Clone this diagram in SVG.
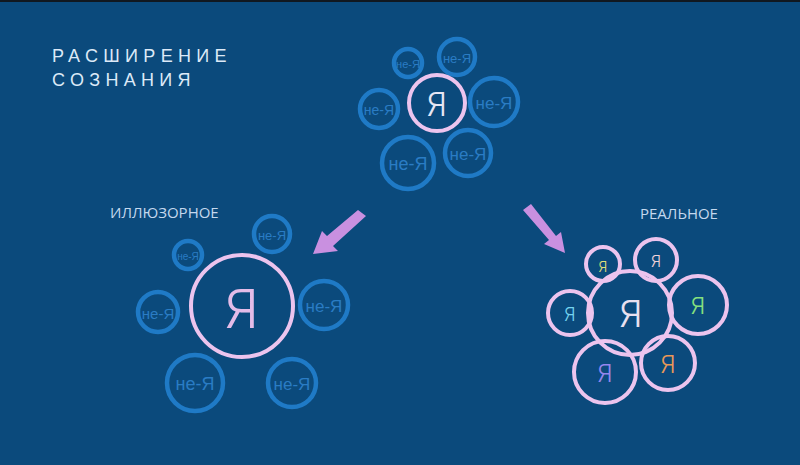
<svg xmlns="http://www.w3.org/2000/svg" width="800" height="465" viewBox="0 0 800 465">
<defs>
<style>
.bg{fill:#0b4a7c}
.nc{fill:none;stroke:#1f7ac6;stroke-width:4.5}
.nt{fill:#2a7cc4;font-family:"Liberation Sans",Arial,sans-serif;text-anchor:middle;dominant-baseline:central}
.ya{fill:none;stroke:#ecc4ee;stroke-width:4}
.yt{font-family:Inter,"Liberation Sans",Arial,sans-serif;font-weight:300;text-anchor:middle;dominant-baseline:central}
.title{fill:#dce9f7;font-family:"Liberation Sans",Arial,sans-serif;font-size:18px;letter-spacing:5.3px}
.sub{fill:#c4d8ee;font-family:"Open Sans","Liberation Sans",sans-serif;font-size:15px}
.arr{fill:#c990e0}
</style>
</defs>
<rect class="bg" x="0" y="0" width="800" height="465"/>
<rect x="0" y="0" width="800" height="2" fill="#111820"/>
<g id="title">
<text class="title" x="52" y="62">РАСШИРЕНИЕ</text>
<text class="title" x="52" y="86">СОЗНАНИЯ</text>
</g>
<g id="label-illusory"><text class="sub" x="110" y="218">ИЛЛЮЗОРНОЕ</text></g>
<g id="label-real"><text class="sub" x="640" y="219">РЕАЛЬНОЕ</text></g>

<g id="top-cluster">
<g id="top-n1"><circle class="nc" cx="408" cy="63" r="14"/><text class="nt" x="408" y="64" font-size="11">не-Я</text></g>
<g id="top-n2"><circle class="nc" cx="457" cy="57" r="18"/><text class="nt" x="457" y="58" font-size="13">не-Я</text></g>
<g id="top-n3"><circle class="nc" cx="379" cy="109" r="19"/><text class="nt" x="379" y="110" font-size="14">не-Я</text></g>
<g id="top-n4"><circle class="nc" cx="494" cy="102" r="24"/><text class="nt" x="494" y="103" font-size="17">не-Я</text></g>
<g id="top-n5"><circle class="nc" cx="408" cy="163" r="26"/><text class="nt" x="408" y="164" font-size="18">не-Я</text></g>
<g id="top-n6"><circle class="nc" cx="468" cy="153" r="23"/><text class="nt" x="468" y="154" font-size="17">не-Я</text></g>
<g id="top-self"><circle class="ya" cx="437" cy="103" r="28"/><text class="yt" x="437" y="104" font-size="32" fill="#e6e6f4">Я</text></g>
</g>

<g id="left-cluster">
<g id="left-n1"><circle class="nc" cx="188" cy="255" r="14"/><text class="nt" x="188" y="256" font-size="10">не-Я</text></g>
<g id="left-n2"><circle class="nc" cx="272" cy="234" r="18"/><text class="nt" x="272" y="235" font-size="13">не-Я</text></g>
<g id="left-n3"><circle class="nc" cx="158" cy="312" r="20"/><text class="nt" x="158" y="313" font-size="15">не-Я</text></g>
<g id="left-n4"><circle class="nc" cx="324" cy="305" r="24"/><text class="nt" x="324" y="306" font-size="17">не-Я</text></g>
<g id="left-n5"><circle class="nc" cx="195" cy="383" r="28"/><text class="nt" x="195" y="384" font-size="18">не-Я</text></g>
<g id="left-n6"><circle class="nc" cx="292" cy="383" r="24"/><text class="nt" x="292" y="384" font-size="17">не-Я</text></g>
<g id="left-self"><circle class="ya" cx="242" cy="306" r="51"/><text class="yt" x="242" y="308" font-size="54" fill="#e4bce8">Я</text></g>
</g>

<g id="right-cluster">
<g id="right-n1"><circle class="ya" cx="603" cy="264" r="17"/><text class="yt" x="603" y="266" font-size="14" fill="#e2e07a">Я</text></g>
<g id="right-n2"><circle class="ya" cx="656" cy="260" r="21"/><text class="yt" x="656" y="261" font-size="16" fill="#f0d2d8">Я</text></g>
<g id="right-n3"><circle class="ya" cx="570" cy="313" r="22"/><text class="yt" x="570" y="314" font-size="18" fill="#74d4f0">Я</text></g>
<g id="right-n4"><circle class="ya" cx="698" cy="305" r="29"/><text class="yt" x="698" y="306" font-size="23" fill="#86e07e">Я</text></g>
<g id="right-n5"><circle class="ya" cx="605" cy="372" r="31"/><text class="yt" x="605" y="373" font-size="24" fill="#9486ee">Я</text></g>
<g id="right-n6"><circle class="ya" cx="668" cy="363" r="27"/><text class="yt" x="668" y="364" font-size="24" fill="#e89858">Я</text></g>
<g id="right-self"><circle class="ya" cx="630" cy="313" r="42"/><text class="yt" x="631" y="313" font-size="37" fill="#e8e0f0">Я</text></g>
</g>

<g id="connectors">
<polygon class="arr" points="358,210 366,216 333,246 338,251 313,254 322,231 327,236"/>
<polygon class="arr" points="523,210 531,204 556,236 561,232 565,253 544,244 549,240"/>
</g>
</svg>
